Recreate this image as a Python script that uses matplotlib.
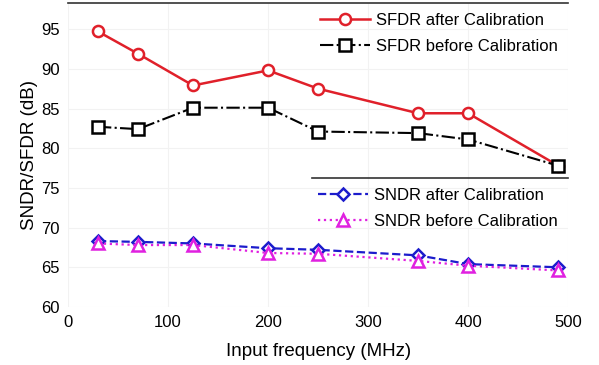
import matplotlib
matplotlib.use("Agg")
import matplotlib.pyplot as plt

plt.rcParams['font.family'] = ['Liberation Sans', 'DejaVu Sans']

freq = [30, 70, 125, 200, 250, 350, 400, 490]
sfdr_after = [94.7, 91.9, 87.9, 89.8, 87.5, 84.4, 84.4, 77.8]
sfdr_before = [82.7, 82.4, 85.1, 85.1, 82.1, 81.9, 81.1, 77.8]
sndr_after = [68.3, 68.2, 68.0, 67.4, 67.2, 66.5, 65.4, 65.0]
sndr_before = [68.0, 67.8, 67.8, 66.8, 66.7, 65.8, 65.2, 64.6]

fig = plt.figure(figsize=(5.99, 3.65), dpi=100)
ax = fig.add_axes([0.1135, 0.159, 0.835, 0.833])

l1, = ax.plot(freq, sfdr_after, '-o', color='#e0202a', lw=1.8, ms=8,
              mfc='white', mew=1.8, label='SFDR after Calibration')
l2, = ax.plot(freq, sfdr_before, '-.s', color='black', lw=1.5, ms=8,
              mfc='white', mew=1.8, label='SFDR before Calibration')
l3, = ax.plot(freq, sndr_after, '--D', color='#1c1ccc', lw=1.6, ms=6,
              mfc='white', mew=1.8, label='SNDR after Calibration')
l4, = ax.plot(freq, sndr_before, ':^', color='#e020e0', lw=1.6, ms=8,
              mfc='white', mew=1.8, label='SNDR before Calibration')

ax.set_xlim(0, 500)
ax.set_ylim(60, 98.3)
ax.set_xticks(range(0, 501, 100))
ax.set_yticks(range(60, 96, 5))
ax.tick_params(length=0, labelsize=12, pad=6)
ax.grid(True, color='#f2f2f2', lw=0.8)
for s in ['left', 'right', 'bottom']:
    ax.spines[s].set_visible(False)
ax.spines['top'].set_color('#333333')
ax.spines['top'].set_linewidth(1.2)

ax.set_xlabel('Input frequency (MHz)', fontsize=13.5, labelpad=9)
ax.set_ylabel('SNDR/SFDR (dB)', fontsize=13.5, labelpad=2.5)

legkw = dict(loc='upper right', frameon=False, fontsize=12, handlelength=3.0,
             handletextpad=0.4, labelspacing=0.65, borderaxespad=0.2)
leg1 = ax.legend(handles=[l1, l2], bbox_to_anchor=(1.0, 1.0), **legkw)
ax.add_artist(leg1)
ax.legend(handles=[l3, l4], bbox_to_anchor=(1.0, 0.424), **legkw)
ax.plot([0.488, 1.0], [0.424, 0.424], transform=ax.transAxes,
        color='#333333', lw=1.2, clip_on=False)

fig.savefig('out.png', dpi=100)
